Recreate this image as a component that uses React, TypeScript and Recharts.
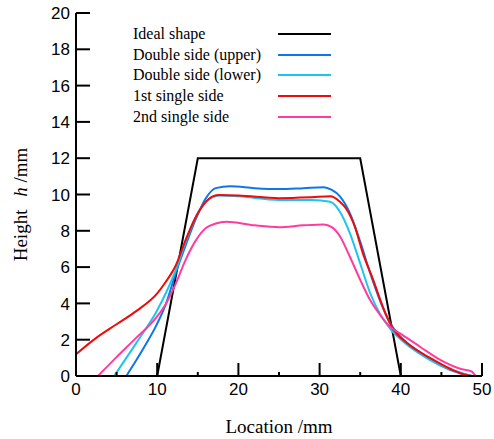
import { LineChart, Line, XAxis, YAxis } from 'recharts'

// Location (mm) and height h (mm)
const idealX = [10, 15, 35, 40]
const idealH = [0, 12, 12, 0]

const upperX = [6.2, 7.4, 8.6, 9.85, 11.1, 12.3, 13.5, 14.8, 16, 17.2, 19, 22, 25, 28, 30.5, 31.5, 32.5, 33.7, 35, 36.2, 37.4, 38.7, 39.9, 42.4, 44.8, 47.3, 48.8]
const upperH = [0, 0.85, 1.75, 2.75, 4.0, 5.7, 7.2, 8.7, 9.8, 10.35, 10.45, 10.35, 10.3, 10.35, 10.4, 10.25, 9.9, 9.0, 7.4, 5.7, 4.2, 2.9, 2.2, 1.3, 0.6, 0.15, 0]

const lowerX = [4.7, 6.2, 7.4, 8.6, 9.85, 11.1, 12.3, 13.5, 14.8, 16, 17.7, 20, 25, 29, 31.3, 32.5, 33.7, 35, 36.2, 37.4, 38.7, 39.9, 42.4, 44.8, 47.3, 48.8]
const lowerH = [0, 1.0, 1.8, 2.6, 3.5, 4.6, 5.85, 7.4, 8.8, 9.6, 9.95, 9.9, 9.7, 9.7, 9.6, 9.05, 7.9, 6.2, 4.6, 3.45, 2.6, 2.05, 1.2, 0.6, 0.2, 0]

const firstX = [0, 2.5, 5, 7.5, 10, 11, 12.3, 13.5, 14.8, 16, 17.5, 20, 25, 29, 31.3, 32.5, 33.3, 34.4, 35.3, 36.6, 37.8, 38.9, 40.8, 43.6, 46.1, 47.7, 48.6]
const firstH = [1.2, 2.1, 2.85, 3.6, 4.55, 5.15, 6.1, 7.5, 8.8, 9.6, 9.97, 9.95, 9.8, 9.85, 9.9, 9.6, 9.2, 8.15, 6.8, 5.3, 3.8, 2.7, 1.8, 1.0, 0.4, 0.1, 0]

const secondX = [2.7, 4.9, 7.4, 9.85, 11.1, 12.3, 13.5, 14.8, 16, 17.2, 18.5, 22, 25, 28, 30.5, 31.5, 32.5, 33.7, 35, 36.2, 37.4, 38.7, 39.9, 42.4, 44.8, 47.3, 48.7, 49.2]
const secondH = [0, 1.0, 2.1, 3.2, 4.0, 5.1, 6.4, 7.5, 8.15, 8.4, 8.5, 8.3, 8.2, 8.3, 8.35, 8.2, 7.7, 6.6, 5.3, 4.2, 3.4, 2.7, 2.35, 1.6, 0.9, 0.4, 0.25, 0]

const xTicks = [0, 5, 10, 15, 20, 25, 30, 35, 40, 45, 50]
const yTicks = [0, 2, 4, 6, 8, 10, 12, 14, 16, 18, 20]

const toPoints = (xs: number[], hs: number[]) => xs.map((x, i) => ({ x, h: hs[i] }))

const series = [
    { name: 'Ideal shape', color: '#000000', data: toPoints(idealX, idealH), curve: 'linear' },
    { name: 'Double side (upper)', color: '#0a78e6', data: toPoints(upperX, upperH), curve: 'monotone' },
    { name: 'Double side (lower)', color: '#1ec4f0', data: toPoints(lowerX, lowerH), curve: 'monotone' },
    { name: '1st single side', color: '#f00a0a', data: toPoints(firstX, firstH), curve: 'monotone' },
    { name: '2nd single side', color: '#ff3c9e', data: toPoints(secondX, secondH), curve: 'monotone' },
]

const SANS = '"Liberation Sans", Arial, sans-serif'
const SERIF = '"Liberation Serif", "Times New Roman", serif'

// ticks point inward, labels outside
function YTick({ x, y, payload }: any) {
    return (
        <g>
            <line x1={x + 6} x2={x + 20} y1={y} y2={y} stroke="#000" strokeWidth={2} />
            <text x={x} y={y} dy="0.36em" textAnchor="end" fontSize={17} fontFamily={SANS} fill="#000">{payload.value}</text>
        </g>
    )
}

function XTick({ x, y, payload }: any) {
    const major = payload.value % 10 === 0
    return (
        <g>
            <line x1={x} x2={x} y1={y - 7} y2={y - 7 - (major ? 13 : 4)} stroke="#000" strokeWidth={2} />
            {major && (
                <text x={x} y={y} dy="0.71em" textAnchor="middle" fontSize={17} fontFamily={SANS} fill="#000">{payload.value}</text>
            )}
        </g>
    )
}

// legend drawn as an overlay so it takes no room from the plot
function LegendBox() {
    return (
        <div style={{ position: 'absolute', left: 133, top: 23.5 }}>
            {series.map(s => (
                <div key={s.name} style={{ height: 20.75, display: 'flex', alignItems: 'center', fontFamily: SERIF, fontSize: 16, color: '#000' }}>
                    <span style={{ width: 145, whiteSpace: 'nowrap' }}>{s.name}</span>
                    <span style={{ width: 53, borderTop: `2px solid ${s.color}` }} />
                </div>
            ))}
        </div>
    )
}

export default function App() {
    return (
        <div style={{ position: 'absolute', left: 0, top: 0, width: 494, height: 439 }}>
            <LineChart width={494} height={439} margin={{ top: 13, right: 12, left: 0, bottom: 0 }}>
                <XAxis
                    dataKey="x"
                    type="number"
                    domain={[0, 50]}
                    ticks={xTicks}
                    interval={0}
                    height={63}
                    tickSize={0}
                    tickMargin={7}
                    tick={<XTick />}
                    axisLine={{ stroke: '#000', strokeWidth: 2 }}
                    allowDataOverflow
                    label={{
                        content: ({ viewBox }: any) => (
                            <text x={viewBox.x + viewBox.width / 2} y={viewBox.y + 57} textAnchor="middle" fontSize={19} fontFamily={SERIF} fill="#000">
                                Location /mm
                            </text>
                        ),
                    }}
                />
                <XAxis xAxisId="top" orientation="top" type="number" domain={[0, 50]} height={0} tick={false} tickLine={false} axisLine={{ stroke: '#000', strokeWidth: 2 }} />
                <YAxis
                    type="number"
                    domain={[0, 20]}
                    ticks={yTicks}
                    interval={0}
                    width={76}
                    tickSize={0}
                    tickMargin={6}
                    tick={<YTick />}
                    axisLine={{ stroke: '#000', strokeWidth: 2 }}
                    allowDataOverflow
                    label={{
                        content: ({ viewBox }: any) => {
                            const cx = viewBox.x + 20
                            const cy = viewBox.y + viewBox.height / 2 + 10
                            return (
                                <text x={cx} y={cy} transform={`rotate(-90 ${cx} ${cy})`} textAnchor="middle" dominantBaseline="central" fontSize={19} fontFamily={SERIF} fill="#000">
                                    Height <tspan fontStyle="italic" dx={8}>h</tspan> /mm
                                </text>
                            )
                        },
                    }}
                />
                <YAxis yAxisId="right" orientation="right" type="number" domain={[0, 20]} width={0} tick={false} tickLine={false} axisLine={{ stroke: '#000', strokeWidth: 2 }} />
                {series.map(s => (
                    <Line
                        key={s.name}
                        name={s.name}
                        data={s.data}
                        dataKey="h"
                        type={s.curve as any}
                        stroke={s.color}
                        strokeWidth={2}
                        dot={false}
                        activeDot={false}
                        isAnimationActive={false}
                    />
                ))}
            </LineChart>
            <LegendBox />
        </div>
    )
}
